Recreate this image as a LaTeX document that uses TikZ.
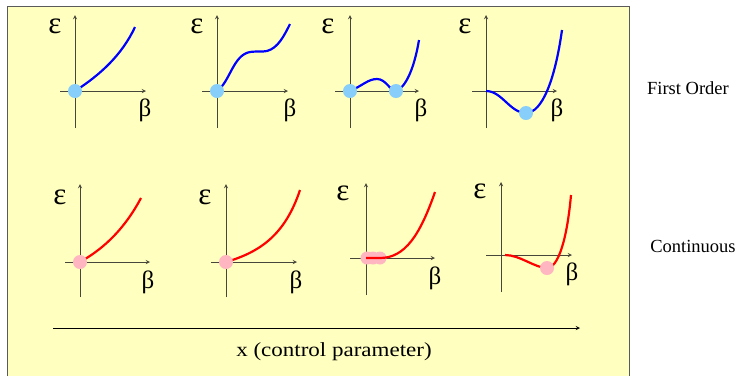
\documentclass[tikz,border=0pt]{standalone}
\usepackage{fontspec}
\setmainfont{Liberation Serif}
\usepackage{tikz}

\definecolor{boxyellow}{RGB}{255,255,192}
\definecolor{framegray}{RGB}{90,90,90}
\definecolor{axisgray}{RGB}{70,70,58}
\definecolor{dotblue}{RGB}{135,206,250}
\definecolor{dotpink}{RGB}{255,182,193}

\begin{document}
\begin{tikzpicture}[
            x=1pt, y=-1pt,
            >=stealth,
            axis/.style={->, axisgray, line width=0.9pt},
            firstcurve/.style={blue, line width=2.2pt},
            contcurve/.style={red, line width=2.2pt},
            bluedot/.style={fill=dotblue},
            pinkdot/.style={fill=dotpink},
            eps/.style={font=\fontsize{31}{33}\selectfont},
            bet/.style={font=\fontsize{25}{28}\selectfont},
            caption/.style={font=\fontsize{18.5}{21}\selectfont}
        ]
            \useasboundingbox (0,0) rectangle (740,376);
            \fill[boxyellow] (7,6) rectangle (629,376);
            \draw[framegray, line width=0.8pt] (7,376) -- (7,6) -- (629,6) -- (629,376);

            % first order row
            \draw[axis] (75,128) -- (75,15);
            \draw[axis] (60,91) -- (146,91);
            \draw[firstcurve] (75,91) .. controls (100,75) and (122,55) .. (135,27);
            \fill[bluedot] (75,91) circle (7);
            \node[eps] (epsA) at (55,26) {ε};
            \node[bet] (betA) at (145,110) {β};

            \draw[axis] (217,128) -- (217,15);
            \draw[axis] (202,91) -- (288,91);
            \draw[firstcurve] (217,91) .. controls (230,82) and (233,55) .. (250,52)
                .. controls (258,51) and (262,52) .. (267,51)
                .. controls (278,48) and (284,36) .. (290,24);
            \fill[bluedot] (217,91) circle (7);
            \node[eps] (epsB) at (197,26) {ε};
            \node[bet] (betB) at (290,110) {β};

            \draw[axis] (350,128) -- (350,15);
            \draw[axis] (335,91) -- (419,91);
            \draw[firstcurve] (350,91) .. controls (362,86) and (368,79) .. (377,79)
                .. controls (386,79) and (390,91) .. (396,91)
                .. controls (405,88) and (414,70) .. (419,40);
            \fill[bluedot] (350,91) circle (7);
            \fill[bluedot] (396,91) circle (7);
            \node[eps] (epsC) at (328,26) {ε};
            \node[bet] (betC) at (421,110) {β};

            \draw[axis] (486,128) -- (486,15);
            \draw[axis] (472,91) -- (557,91);
            \draw[firstcurve] (486,91) .. controls (502,91) and (510,113) .. (526,113)
                .. controls (542,113) and (555,80) .. (562,30);
            \fill[bluedot] (526,113) circle (7);
            \node[eps] (epsD) at (465,26) {ε};
            \node[bet] (betD) at (557,110) {β};

            % continuous row
            \draw[axis] (80,297) -- (80,184);
            \draw[axis] (65,262) -- (150,262);
            \draw[contcurve] (80,262) .. controls (105,248) and (125,228) .. (141,198);
            \fill[pinkdot] (80,262) circle (7);
            \node[eps] (epsE) at (60,197) {ε};
            \node[bet] (betE) at (148,282) {β};

            \draw[axis] (226,297) -- (226,184);
            \draw[axis] (211,262) -- (297,262);
            \draw[contcurve] (226,262) .. controls (260,252) and (285,235) .. (300,190);
            \fill[pinkdot] (226,262) circle (7);
            \node[eps] (epsF) at (205,197) {ε};
            \node[bet] (betF) at (296,282) {β};

            \draw[axis] (366,295) -- (366,183);
            \draw[axis] (350,258) -- (435,258);
            \fill[pinkdot] (367,258) circle (6.5);
            \fill[pinkdot] (373,258) circle (6.5);
            \fill[pinkdot] (380,258) circle (6.5);
            \draw[contcurve] (366,258) -- (380,258) .. controls (405,258) and (420,235) .. (435,192);
            \node[eps] (epsG) at (343,193) {ε};
            \node[bet] (betG) at (435,278) {β};

            \draw[axis] (501,292) -- (501,182);
            \draw[axis] (486,255) -- (572,255);
            \draw[contcurve] (505,255) .. controls (520,255) and (535,268) .. (547,268)
                .. controls (558,268) and (567,240) .. (571,195);
            \fill[pinkdot] (547,268) circle (7);
            \node[eps] (epsH) at (480,191) {ε};
            \node[bet] (betH) at (572,274) {β};

            % control parameter
            \draw[->, black, line width=0.9pt] (53,328) -- (580,328);
            \node[caption, font=\fontsize{20}{23}\selectfont, xscale=1.15] (ctrl) at (334,352) {x (control parameter)};

            \node[caption] (first) at (688,88) {First Order};
            \node[caption] (cont) at (693,246) {Continuous};
        \end{tikzpicture}
\end{document}
